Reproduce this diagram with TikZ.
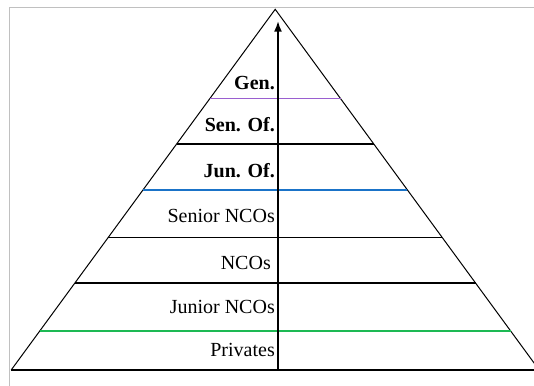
\documentclass[tikz,border=0pt]{standalone}
\usepackage{fontspec}
\setmainfont{Liberation Serif}
\usetikzlibrary{calc,arrows.meta}
\definecolor{rankpurple}{HTML}{9A5FD0}
\definecolor{rankblue}{HTML}{1A73C8}
\definecolor{rankgreen}{HTML}{1DB954}
\definecolor{framegray}{HTML}{C0C0C0}
\begin{document}
\begin{tikzpicture}[>={Latex[length=11pt,width=8pt]},x=1pt,y=1pt,font=\fontsize{20}{24}\selectfont]
\useasboundingbox (0,0) rectangle (534,385);
\clip (0,0) rectangle (534,385);
\draw[framegray,line width=1.5pt] (9.5,-10) -- (9.5,377.5) -- (545,377.5);

\coordinate (top) at (275.2,375.7);
\coordinate (bl) at (11.2,15);
\coordinate (br) at (539.2,15);
\draw[line width=1pt] (bl) -- (top) -- (br);
\draw[line width=1.3pt] (bl) -- (br);

\foreach \t/\c [count=\i] in {0.752/rankpurple, 0.6266/black, 0.499/rankblue,
                               0.3668/black, 0.2412/black, 0.1081/rankgreen}
{
   \coordinate (l\i) at ($(bl)!\t!(top)$);
   \coordinate (r\i) at ($(br)!\t!(top)$);
   \draw[\c,line width=1.4pt] (l\i) -- (r\i);
}

\coordinate (foot) at (278,15);
\coordinate (head) at (278,364.3);
\draw[->,line width=2pt] (foot) -- (head);

\foreach \x/\y/\txt [count=\i] in {275/301.7/\textbf{Gen.}, 275/260/\textbf{Sen. Of.},
                                   275/214.3/\textbf{Jun. Of.}, 275/169/Senior NCOs,
                                   271/121.7/NCOs, 275/78.3/Junior NCOs, 275/35/Privates}
{
   \node[anchor=east,inner sep=0pt] (rank\i) at (\x,\y) {\txt};
}

\end{tikzpicture}
\end{document}
